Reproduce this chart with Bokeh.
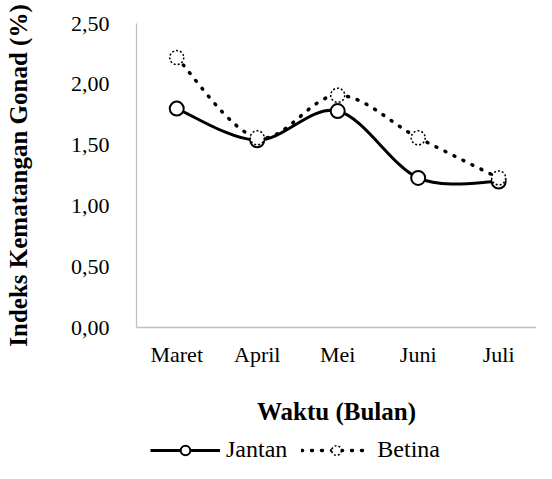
import math
from bokeh.plotting import figure
from bokeh.layouts import column
from bokeh.models import Range1d, FixedTicker, Legend, LegendItem
from bokeh.embed import file_html
from bokeh.resources import INLINE

months = ["Maret", "April", "Mei", "Juni", "Juli"]
jantan = [1.80, 1.54, 1.78, 1.23, 1.20]
betina = [2.22, 1.56, 1.91, 1.56, 1.23]
y_ticks = [0, 0.5, 1, 1.5, 2, 2.5]
y_tick_labels = ["0,00", "0,50", "1,00", "1,50", "2,00", "2,50"]
series_names = ["Jantan", "Betina"]

xs = list(range(len(months)))
FONT = "Liberation Serif"
DOTS = "1 9"


def smooth(xv, yv):
    n = len(xv)
    d = dict(x0=[], y0=[], x1=[], y1=[], cx0=[], cy0=[], cx1=[], cy1=[])
    for i in range(n - 1):
        a = max(i - 1, 0)
        b = min(i + 2, n - 1)
        d["x0"].append(xv[i]); d["y0"].append(yv[i])
        d["x1"].append(xv[i + 1]); d["y1"].append(yv[i + 1])
        d["cx0"].append(xv[i] + (xv[i + 1] - xv[a]) / 6)
        d["cy0"].append(yv[i] + (yv[i + 1] - yv[a]) / 6)
        d["cx1"].append(xv[i + 1] - (xv[b] - xv[i]) / 6)
        d["cy1"].append(yv[i + 1] - (yv[b] - yv[i]) / 6)
    return d


H2 = 36
p = figure(width=536, height=463 - H2, output_backend="svg", toolbar_location=None,
           x_range=Range1d(-0.5, 4.47), y_range=Range1d(0, 2.5),
           min_border_left=136, min_border_right=0, min_border_top=23,
           min_border_bottom=463 - H2 - 328)

p.outline_line_color = None
p.xgrid.grid_line_color = None
p.ygrid.grid_line_color = None

# Jantan
p.bezier(line_color="black", line_width=3, **smooth(xs, jantan))
# Betina
p.bezier(line_color="black", line_width=3.5, line_dash=DOTS, line_cap="round", **smooth(xs, betina))

p.scatter(xs, jantan, marker="circle", size=14, fill_color="white",
          line_color="black", line_width=2)
p.scatter(xs, betina, marker="circle", size=14, fill_color="white",
          line_color="black", line_width=1.5, line_dash="2 2")

# axes
p.xaxis.ticker = FixedTicker(ticks=xs)
p.xaxis.major_label_overrides = {x: m for x, m in zip(xs, months)}
p.yaxis.ticker = FixedTicker(ticks=y_ticks)
p.yaxis.major_label_overrides = {t: l for t, l in zip(y_ticks, y_tick_labels)}

for ax in (p.xaxis, p.yaxis):
    ax.axis_line_color = "#BFBFBF"
    ax.axis_line_width = 1.3
    ax.major_tick_line_color = None
    ax.minor_tick_line_color = None
    ax.major_label_text_font = FONT
    ax.major_label_text_font_size = "22px"
    ax.major_label_text_color = "black"
    ax.axis_label_text_font = FONT
    ax.axis_label_text_font_style = "bold"
    ax.axis_label_text_color = "black"
    ax.axis_label_text_font_size = "25px"

p.xaxis.axis_label = "Waktu (Bulan)"
p.yaxis.axis_label = "Indeks Kematangan Gonad (%)"
p.xaxis.major_label_standoff = 8
p.yaxis.major_label_standoff = 21
p.xaxis.axis_label_standoff = 28
p.yaxis.axis_label_standoff = 36

# legend strip
p2 = figure(width=536, height=H2, output_backend="svg", toolbar_location=None,
            x_range=Range1d(0, 1), y_range=Range1d(0, 1),
            x_axis_type=None, y_axis_type=None,
            min_border_left=0, min_border_right=0, min_border_top=0, min_border_bottom=0)
p2.outline_line_color = None
p2.xgrid.grid_line_color = None
p2.ygrid.grid_line_color = None

nan = math.nan
lj = p2.line(x=[nan, nan], y=[nan, nan], line_color="black", line_width=3)
sj = p2.scatter(x=[nan], y=[nan], marker="circle", size=14, fill_color="white",
                line_color="black", line_width=2)
lb = p2.line(x=[nan, nan], y=[nan, nan], line_color="black", line_width=3.5,
             line_dash=DOTS, line_cap="round")
sb = p2.scatter(x=[nan], y=[nan], marker="circle", size=14, fill_color="white",
                line_color="black", line_width=1.5, line_dash="2 2")

legend = Legend(items=[LegendItem(label=series_names[0], renderers=[lj, sj]),
                       LegendItem(label=series_names[1], renderers=[lb, sb])],
                orientation="horizontal", location=(14, 0),
                label_text_font=FONT, label_text_font_size="24px", label_text_color="black",
                glyph_width=70, glyph_height=24, label_standoff=6, spacing=14,
                padding=0, margin=0, border_line_alpha=0, background_fill_alpha=0)
p2.add_layout(legend, "center")

layout = column(p, p2, spacing=0)
open("out.html", "w").write(file_html(layout, INLINE))
